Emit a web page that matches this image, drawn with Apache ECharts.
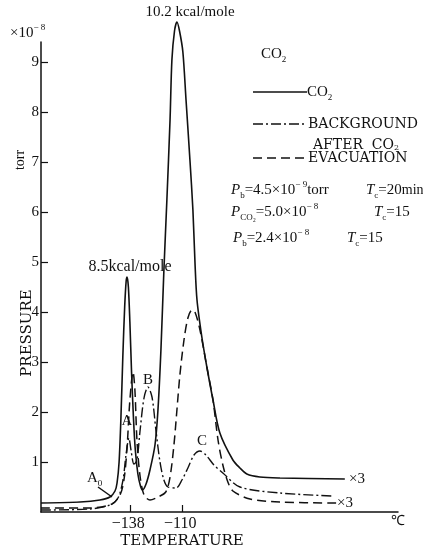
<!DOCTYPE html>
<html><head><meta charset="utf-8">
<script src="https://cdn.jsdelivr.net/npm/echarts@6/dist/echarts.min.js"></script>
<style>html,body{margin:0;padding:0;background:#fff}#c{width:423px;height:549px}</style>
</head><body><div id="c"></div>
<script>
// Temperature (°C), pressure (×10^-8 torr)
const co2 = [[-186,0.18],[-165,0.2],[-154.3,0.24],[-148.9,0.3],[-146.2,0.42],[-145.1,0.58],[-144.0,1.0],[-143.0,1.9],[-142.0,3.1],[-141.0,4.1],[-140.2,4.62],[-139.7,4.7],[-139.0,4.5],[-138.2,3.8],[-137.3,2.8],[-136.3,1.9],[-135.3,1.25],[-133.9,0.76],[-132.5,0.52],[-131.4,0.44],[-129.5,0.56],[-127.4,0.84],[-124.7,1.34],[-123.1,2.04],[-121.5,3.24],[-119.9,4.84],[-118.3,6.24],[-116.6,7.84],[-115.6,9.04],[-114.2,9.62],[-112.9,9.8],[-111.5,9.62],[-109.7,9.2],[-108.0,8.24],[-105.9,7.04],[-104.3,6.04],[-103.2,5.0],[-102.1,4.24],[-99.5,3.5],[-96.8,2.9],[-93.5,2.24],[-89.8,1.58],[-82.8,1.04],[-79.0,0.88],[-75.3,0.76],[-68.3,0.7],[-57.5,0.68],[-22.6,0.66]];
const background = [[-186,0.04],[-159.7,0.06],[-148.9,0.14],[-144.6,0.28],[-141.9,0.64],[-140.3,1.14],[-138.7,1.48],[-137.6,1.24],[-136.0,0.96],[-134.4,1.04],[-132.8,1.6],[-130.6,2.28],[-128.5,2.5],[-126.3,2.3],[-124.2,1.64],[-122,1.0],[-119.9,0.64],[-117.7,0.5],[-113.4,0.48],[-110.2,0.64],[-107,0.88],[-103.7,1.14],[-100.5,1.22],[-97.3,1.14],[-93,0.94],[-88.2,0.78],[-79,0.5],[-57.5,0.38],[-28.9,0.32]];
const afterEvac = [[-186,0.08],[-159.7,0.08],[-147.8,0.16],[-143.5,0.34],[-141.4,0.64],[-139.8,1.24],[-138.2,2.24],[-136.5,2.8],[-135.5,2.44],[-134.4,1.44],[-132.8,0.74],[-130.6,0.34],[-127.4,0.24],[-123.1,0.3],[-118.9,0.4],[-116.6,0.7],[-114.5,1.34],[-112.9,2.04],[-111.3,2.74],[-109.1,3.44],[-107,3.88],[-104.8,4.04],[-103.2,4.0],[-100.5,3.64],[-96.8,2.9],[-93.5,2.24],[-90.8,1.44],[-88.2,0.94],[-85.5,0.6],[-82.8,0.42],[-73.6,0.26],[-57.5,0.2],[-26.9,0.18]];
const xTicks = [-138, -110];
const yTicks = [1, 2, 3, 4, 5, 6, 7, 8, 9];

const SERIF = 'Liberation Serif';
const CAPS = 'DejaVu Serif';
const INK = '#111';

const chart = echarts.init(document.getElementById('c'), null, {renderer: 'canvas'});

const richF = {
  n: {fontFamily: SERIF, fontSize: 15, lineHeight: 20, color: INK},
  m: {fontFamily: SERIF, fontSize: 14, lineHeight: 20, color: INK},
  i: {fontFamily: SERIF, fontSize: 15, lineHeight: 20, fontStyle: 'italic', color: INK},
  sub: {fontFamily: SERIF, fontSize: 9, lineHeight: 8, verticalAlign: 'bottom', color: INK},
  sup: {fontFamily: SERIF, fontSize: 9, lineHeight: 8, verticalAlign: 'top', color: INK}
};
function txt(x, y, s, size, fam) {
  return {type: 'text', x: x, y: y, silent: true,
    style: {text: s, fontFamily: fam || SERIF, fontSize: size || 15, fill: INK, verticalAlign: 'middle'}};
}
function ctxt(x, y, s, size, fam, rot) {
  return {type: 'text', x: x, y: y, rotation: rot || 0, silent: true,
    style: {text: s, fontFamily: fam || SERIF, fontSize: size || 15, fill: INK, align: 'center', verticalAlign: 'middle'}};
}
function rtxt(x, y, s) {
  return {type: 'text', x: x, y: y, silent: true,
    style: {text: s, rich: richF, fontFamily: SERIF, fontSize: 15, fill: INK, verticalAlign: 'middle'}};
}
function seg(x1, y1, x2, y2, dash) {
  return {type: 'line', silent: true, shape: {x1: x1, y1: y1, x2: x2, y2: y2},
    style: {stroke: INK, lineWidth: 1.5, lineDash: dash || null}};
}

const option = {
  backgroundColor: '#fff',
  animation: false,
  grid: {left: 41, right: 25, top: 42, bottom: 37},
  xAxis: {
    type: 'value', min: -186, max: 6,
    axisLine: {show: true, onZero: false, lineStyle: {color: INK, width: 1.5}},
    axisTick: {show: true, inside: true, length: 7, customValues: xTicks, lineStyle: {color: INK, width: 1.2}},
    axisLabel: {customValues: xTicks, formatter: v => '\u2212' + Math.abs(v) + ' ', fontFamily: SERIF, fontSize: 16, color: INK, margin: 4},
    splitLine: {show: false}
  },
  yAxis: {
    type: 'value', min: 0, max: 9.4,
    axisLine: {show: true, onZero: false, lineStyle: {color: INK, width: 1.5}},
    axisTick: {show: true, inside: true, length: 7, customValues: yTicks, lineStyle: {color: INK, width: 1.2}},
    axisLabel: {customValues: yTicks, fontFamily: SERIF, fontSize: 15, color: INK, margin: 2},
    splitLine: {show: false}
  },
  series: [
    {name: 'AFTER CO2 EVACUATION', type: 'line', data: afterEvac, showSymbol: false, smooth: 0.3, clip: false,
      lineStyle: {color: INK, width: 1.5, type: [9, 5]}, z: 2},
    {name: 'BACKGROUND', type: 'line', data: background, showSymbol: false, smooth: 0.3, clip: false,
      lineStyle: {color: INK, width: 1.4, type: [10, 3, 2, 3]}, z: 3},
    {name: 'CO2', type: 'line', data: co2, showSymbol: false, smooth: 0.3, clip: false,
      lineStyle: {color: INK, width: 1.6}, z: 4}
  ],
  graphic: [
    rtxt(10, 33, '{n|×10}{sup|\u2212 8}'),
    ctxt(20, 160, 'torr', 14, SERIF, Math.PI / 2),
    ctxt(27, 333, 'PRESSURE', 15, CAPS, Math.PI / 2),
    ctxt(182, 541, 'TEMPERATURE', 15, CAPS),
    txt(391, 521, '\u2103', 14),
    ctxt(190, 12, '10.2 kcal/mole', 15),
    ctxt(130, 267, '8.5kcal/mole', 16),
    rtxt(87, 478, '{n|A}{sub|0}'),
    seg(98, 487, 112, 497),
    ctxt(127, 421, 'A', 15),
    ctxt(148, 380, 'B', 15),
    ctxt(202, 441, 'C', 15),
    txt(349, 479, '×3', 15),
    txt(337, 503, '×3', 15),
    rtxt(261, 54, '{n|CO}{sub|2}'),
    seg(253, 92, 307, 92),
    rtxt(307, 92, '{n|CO}{sub|2}'),
    seg(253, 124, 307, 124, [10, 3, 2, 3]),
    txt(308, 124, 'BACKGROUND', 14, CAPS),
    {type: 'text', x: 313, y: 145, silent: true, style: {text: 'AFTER  CO{s|2}', rich: {s: {fontFamily: CAPS, fontSize: 8, lineHeight: 8, verticalAlign: 'bottom'}}, fontFamily: CAPS, fontSize: 14, fill: INK, verticalAlign: 'middle'}},
    seg(253, 158, 307, 158, [9, 5]),
    txt(308, 158, 'EVACUATION', 14, CAPS),
    rtxt(231, 190, '{i|P}{sub|b}{n|=4.5×10}{sup|\u2212 9}{n|torr}'),
    rtxt(366, 190, '{i|T}{sub|c}{n|=20}{m|min}'),
    rtxt(231, 212, '{i|P}{sub|CO₂}{n|=5.0×10}{sup|\u2212 8}'),
    rtxt(374, 212, '{i|T}{sub|c}{n|=15}'),
    rtxt(233, 238, '{i|P}{sub|b}{n|=2.4×10}{sup|\u2212 8}'),
    rtxt(347, 238, '{i|T}{sub|c}{n|=15}')
  ]
};
chart.setOption(option);
</script>
</body></html>
